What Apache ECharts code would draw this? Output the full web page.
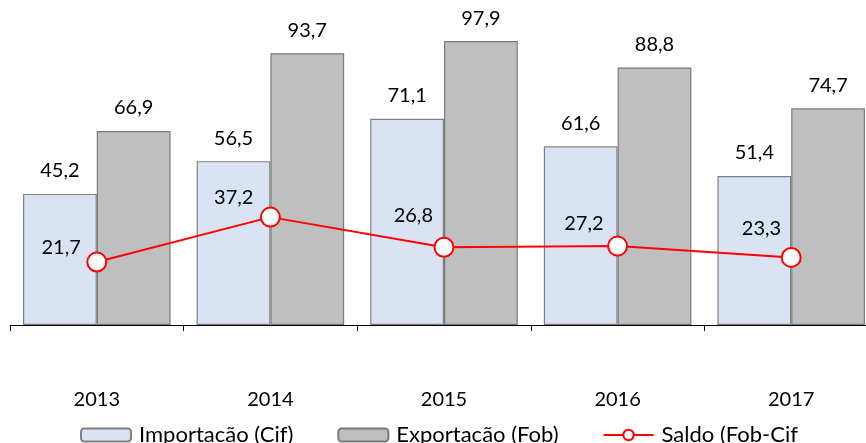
<!DOCTYPE html>
<html>
<head>
<meta charset="UTF-8">
<title>Importacão / Exportacão</title>
<style>
  html, body { margin: 0; padding: 0; background: #fff; }
  #chart { width: 866px; height: 443px; }
</style>
</head>
<body>
<div id="chart"></div>
<script src="https://cdn.jsdelivr.net/npm/echarts@6/dist/echarts.min.js"></script>
<script>
// dados
var anos = ['2013', '2014', '2015', '2016', '2017'];
var importacao = [45.2, 56.5, 71.1, 61.6, 51.4];
var exportacao = [66.9, 93.7, 97.9, 88.8, 74.7];
var saldo = [21.7, 37.2, 26.8, 27.2, 23.3];
// onde fica cada rótulo do saldo: [afastamento à esquerda do ponto, subida]
var saldoLabelShift = [[15, 15], [16, 20], [10, 32], [13, 23], [9, 29]];

var fonte = 'Lato, "Open Sans", sans-serif';
var marcador = 19;

function virgula(p) {
  return p.value.toFixed(1).replace('.', ',');
}

var chart = echarts.init(document.getElementById('chart'));

var option = {
  backgroundColor: '#fff',
  animation: false,
  textStyle: { fontFamily: fonte },
  // a última categoria sai um pouco fora da imagem
  grid: { left: 10, width: 868, top: 35, bottom: 118, outerBoundsMode: 'none', containLabel: false },
  legend: {
    left: 75,
    top: 419,
    itemWidth: 50,
    itemHeight: 13,
    itemGap: 44,
    textStyle: { fontFamily: fonte, fontSize: 22, color: '#000', padding: [0, 0, 0, 3] },
    data: ['Importacão (Cif)', 'Exportacão (Fob)', 'Saldo (Fob-Cif']
  },
  xAxis: {
    type: 'category',
    data: anos,
    axisLine: { lineStyle: { color: '#000', width: 1 } },
    axisTick: { show: true, length: 6, inside: false, lineStyle: { color: '#000' } },
    axisLabel: { margin: 65, fontSize: 20, color: '#000', fontFamily: fonte }
  },
  yAxis: {
    type: 'value',
    min: 0,
    max: 100,
    show: false,
    splitLine: { show: false }
  },
  series: [
    {
      name: 'Importacão (Cif)',
      type: 'bar',
      data: importacao,
      barGap: '0%',
      barCategoryGap: '15%',
      itemStyle: { color: '#dae3f3', borderColor: '#808080', borderWidth: 1.2 },
      label: { show: true, position: 'top', distance: 13, fontSize: 20, color: '#000', fontFamily: fonte, formatter: virgula }
    },
    {
      name: 'Exportacão (Fob)',
      type: 'bar',
      data: exportacao,
      itemStyle: { color: '#bfbfbf', borderColor: '#7a7a7a', borderWidth: 1.2 },
      label: { show: true, position: 'top', distance: 13, fontSize: 20, color: '#000', fontFamily: fonte, formatter: virgula }
    },
    {
      name: 'Saldo (Fob-Cif',
      type: 'line',
      data: saldo,
      symbol: 'circle',
      symbolSize: marcador,
      z: 5,
      lineStyle: { color: '#ff0000', width: 2 },
      itemStyle: { color: '#fff', borderColor: '#ff0000', borderWidth: 2 },
      label: { show: true, position: 'left', distance: 5, fontSize: 20, color: '#000', fontFamily: fonte, formatter: virgula },
      labelLayout: function (p) {
        var s = saldoLabelShift[p.dataIndex];
        return { dx: marcador / 2 + 5 - s[0], dy: -s[1] };
      }
    }
  ]
};

chart.setOption(option);
window.addEventListener('resize', function () { chart.resize(); });
</script>
</body>
</html>
